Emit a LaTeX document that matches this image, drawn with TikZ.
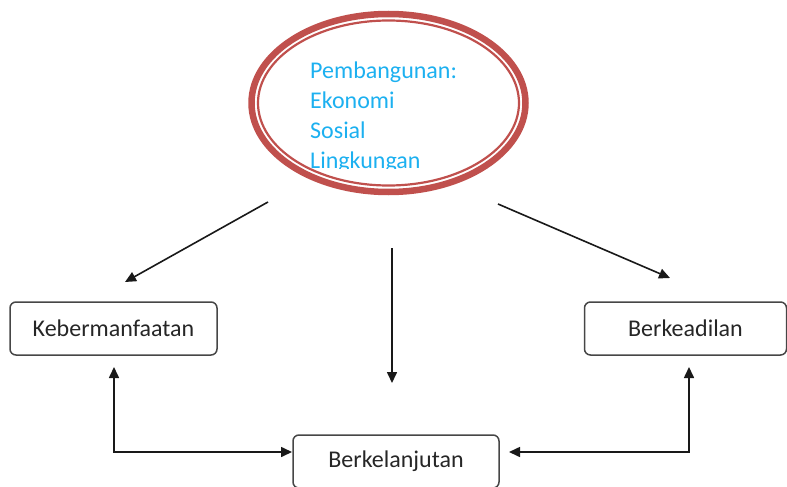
\documentclass[tikz,border=0pt]{standalone}
\usepackage{fontspec}
\setmainfont{Carlito}
\usetikzlibrary{shapes.geometric,arrows.meta}
\definecolor{ellred}{RGB}{192,80,77}
\definecolor{txtblue}{RGB}{28,176,240}
\definecolor{boxgray}{RGB}{70,70,70}
\tikzset{
  box/.style={draw=boxgray, line width=1.5pt, rounded corners=6pt, minimum width=206pt, minimum height=53pt, inner sep=0pt, font=\fontsize{24}{29}\selectfont, text=black!85},
  conn/.style={line width=1.6pt, draw=black!90, -{Triangle[length=11pt,width=10pt]}},
  bconn/.style={line width=1.6pt, draw=black!90, {Triangle[length=11pt,width=10pt]}-{Triangle[length=11pt,width=10pt]}},
  eltext/.style={anchor=base west, inner sep=0pt, text=txtblue, font=\fontsize{24}{29}\selectfont}
}
\begin{document}
\begin{tikzpicture}[x=1pt,y=-1pt]
\useasboundingbox (0,0) rectangle (787,487);
% ellipse
\node[ellipse, draw=ellred, line width=6.5pt, minimum width=274pt, minimum height=178pt, inner sep=0pt] (pem) at (388.5,103) {};
\draw[ellred, line width=2.2pt] (pem.center) ellipse [x radius=130.5pt, y radius=82.5pt];
\begin{scope}
\clip (300,50) rectangle (480,168.5);
\node[eltext] (t1) at (310,78) {Pembangunan:};
\node[eltext] (t2) at (310,108) {Ekonomi};
\node[eltext] (t3) at (310,138) {Sosial};
\node[eltext] (t4) at (310,168) {Lingkungan};
\end{scope}
% boxes
\node[box, minimum width=207pt] (keb) at (113.5,328.5) {Kebermanfaatan};
\node[box, minimum width=202pt] (adil) at (685.5,328.5) {Berkeadilan};
\node[box] (lanj) at (396,461.5) {Berkelanjutan};
% connector ends
\coordinate (l1) at (268,202);
\coordinate (l2) at (125,282);
\coordinate (m1) at (392,248);
\coordinate (m2) at (392,383);
\coordinate (r1) at (498,204);
\coordinate (r2) at (670,278);
\coordinate (kb) at (114,367);
\coordinate (bl) at (292,452);
\coordinate (ab) at (689,367);
\coordinate (br) at (509,452);
\draw[conn] (l1) -- (l2);
\draw[conn] (m1) -- (m2);
\draw[conn] (r1) -- (r2);
\draw[bconn] (kb) |- (bl);
\draw[bconn] (ab) |- (br);
\end{tikzpicture}
\end{document}
